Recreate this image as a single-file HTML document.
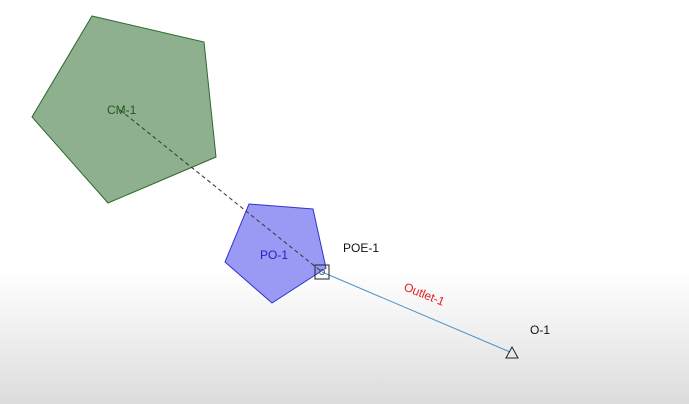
<!DOCTYPE html>
<html><head><style>
html,body{margin:0;padding:0}
body{width:689px;height:404px;overflow:hidden;background:linear-gradient(to bottom,#fff 0,#fff 270px,#f0f0f0 330px,#dcdcdc 404px);font-family:"Liberation Sans",sans-serif}
</style></head><body>
<svg width="689" height="404" style="position:absolute;left:0;top:0">
<polygon points="92,16 204,42 216,157 108,203 32,117" fill="#8fb08f" stroke="#2d6a2d" stroke-width="1"/>
<polygon points="249,204 313,209 326,268 272,303 225,262" fill="#9a9af5" stroke="#3333cc" stroke-width="1"/>
<line x1="120" y1="110" x2="322" y2="272" stroke="#333" stroke-width="1" stroke-dasharray="4,3"/>
<line x1="322" y1="272" x2="510" y2="352" stroke="#4a90c8" stroke-width="1"/>
<rect x="315" y="265" width="14" height="14" fill="none" stroke="#222" stroke-width="1"/>
<circle cx="322" cy="272" r="2.5" fill="none" stroke="#555"/>
<polygon points="512,347 518,358 506,358" fill="none" stroke="#222" stroke-width="1"/>
<text x="107" y="114" font-size="12" fill="#1d5a1d">CM-1</text>
<text x="260" y="259" font-size="12" fill="#2222bb">PO-1</text>
<text x="343" y="252" font-size="12" fill="#111">POE-1</text>
<text x="530" y="334" font-size="12" fill="#111">O-1</text>
<text x="403" y="290" font-size="12" fill="#e02020" transform="rotate(22 403 290)">Outlet-1</text>
</svg>
</body></html>
